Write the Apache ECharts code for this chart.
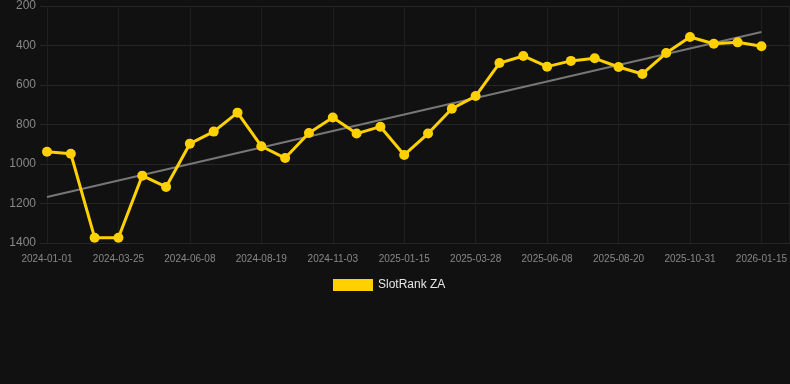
<!DOCTYPE html>
<html><head><meta charset="utf-8">
<script src="https://cdn.jsdelivr.net/npm/echarts@6/dist/echarts.min.js"></script>
<style>html,body{margin:0;padding:0;background:#111111;}#c{width:790px;height:384px;}</style>
</head><body><div id="c"></div>
<script>
const dates = ['2024-01-01','2024-01-29','2024-02-26','2024-03-25','2024-04-19','2024-05-14','2024-06-08','2024-07-02','2024-07-26','2024-08-19','2024-09-13','2024-10-08','2024-11-03','2024-11-27','2024-12-21','2025-01-15','2025-02-08','2025-03-04','2025-03-28','2025-04-21','2025-05-15','2025-06-08','2025-07-02','2025-07-26','2025-08-20','2025-09-13','2025-10-07','2025-10-31','2025-11-25','2025-12-20','2026-01-15'];
const rank = [938,948,1373,1373,1059,1116,897,836,740,910,970,843,765,846,811,954,846,720,656,489,453,507,478,465,509,544,438,357,391,384,404];
const trendEnds = [1167,332];
const yTicks = [200,400,600,800,1000,1200,1400];

const chart = echarts.init(document.getElementById('c'));
const seriesData = rank.map((v,i)=>[i,v]);
const trendData = [[0,trendEnds[0]],[dates.length-1,trendEnds[1]]];
const font = 'Liberation Sans, Arial, sans-serif';
const yMin = yTicks[0], yMax = yTicks[yTicks.length-1];
chart.setOption({
  backgroundColor:'#111111',
  animation:false,
  grid:[
    {left:40,right:0,top:6,bottom:141,containLabel:false},
    {left:47,right:0,top:6,bottom:141,containLabel:false}
  ],
  legend:{
    data:[{name:'SlotRank ZA',icon:'rect'}],
    bottom:88,left:328,itemWidth:40,itemHeight:12,itemGap:6,
    textStyle:{color:'#e6e6e6',fontSize:12,fontFamily:font}
  },
  xAxis:[
    {gridIndex:0,type:'value',min:0,max:1,show:false},
    {gridIndex:1,type:'value',min:0,max:31.18,interval:3,
     axisLine:{show:false},axisTick:{show:false},
     axisLabel:{color:'#888',fontSize:10,margin:11,showMaxLabel:false,fontFamily:font,
       formatter:v=>dates[v]||''},
     splitLine:{show:true,lineStyle:{color:'#1f1f1f',width:1}}}
  ],
  yAxis:[
    {gridIndex:0,type:'value',inverse:true,min:yMin,max:yMax,interval:200,
     axisLine:{show:false},axisTick:{show:false},
     axisLabel:{color:'#888',fontSize:12,margin:4,fontFamily:font,formatter:v=>String(v)},
     splitLine:{lineStyle:{color:'#262626',width:1}}},
    {gridIndex:1,type:'value',inverse:true,min:yMin,max:yMax,interval:200,show:false,
     splitLine:{show:false}}
  ],
  series:[
    {name:'trend',type:'line',xAxisIndex:1,yAxisIndex:1,data:trendData,symbol:'none',silent:true,
     lineStyle:{color:'#777',width:2},z:1},
    {name:'SlotRank ZA',type:'line',xAxisIndex:1,yAxisIndex:1,data:seriesData,symbol:'circle',symbolSize:10,
     itemStyle:{color:'#FFD100'},lineStyle:{color:'#FFD100',width:3},z:3}
  ]
});
</script></body></html>
